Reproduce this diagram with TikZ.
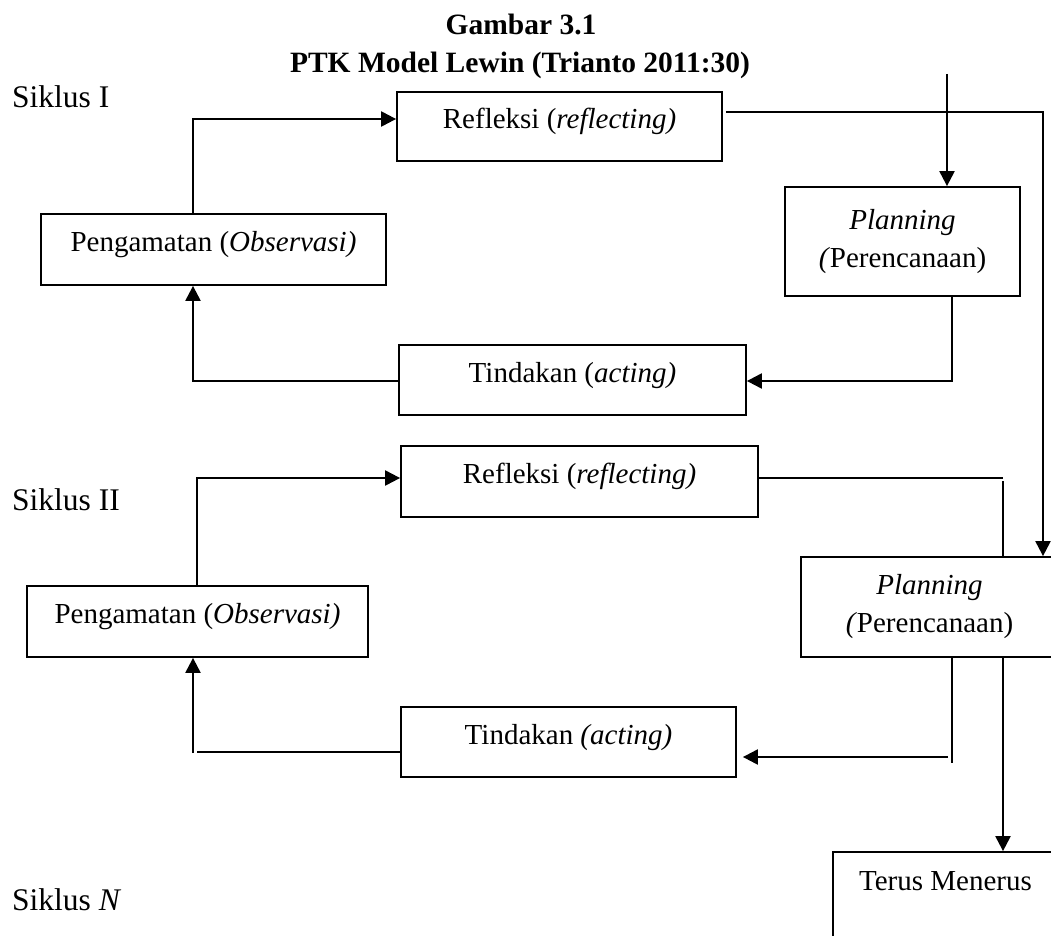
\documentclass[tikz,border=0pt]{standalone}
\usepackage{fontspec}
\setmainfont{Liberation Serif}
\usetikzlibrary{arrows.meta}
\begin{document}
\begin{tikzpicture}[x=1pt,y=-1pt,
  box/.style={draw, line width=1.8pt, inner sep=0pt, align=center, font=\fontsize{29}{38}\selectfont},
  one/.style={text height=20pt, text depth=16pt},
  conn/.style={line width=2.2pt},
  arr/.style={conn, -{Triangle[length=15pt,width=15pt]}},
  lbl/.style={font=\fontsize{31.5}{38}\selectfont, inner sep=0pt, anchor=base west},
  ttl/.style={font=\fontsize{29.5}{38}\selectfont\bfseries, inner sep=0pt, anchor=base}
]
\useasboundingbox (0,0) rectangle (1051,936);
\fill[white] (0,0) rectangle (1051,936);
\clip (0,0) rectangle (1051,936);
% title
\node[ttl] (t1) at (521,35) {Gambar 3.1};
\node[ttl] (t2) at (520,73) {PTK Model Lewin (Trianto 2011:30)};
% cycle labels
\node[lbl] (s1) at (12,108) {Siklus I};
\node[lbl] (s2) at (12,510) {Siklus II};
\node[lbl] (s3) at (12,910) {Siklus \textit{N}};
% cycle I
\node[box,one,minimum width=325pt,minimum height=69pt] (R1) at (559.5,126.5) {Refleksi (\textit{reflecting)}};
\node[box,one,minimum width=345pt,minimum height=71pt] (P1) at (213.5,249.5) {Pengamatan (\textit{Observasi)}};
\node[box,minimum width=235pt,minimum height=109pt] (PL1) at (902.5,241.5) {\textit{Planning}\\\textit{(}Perencanaan)};
\node[box,one,minimum width=347pt,minimum height=70pt] (T1) at (572.5,380) {Tindakan (\textit{acting)}};
% cycle II
\node[box,one,minimum width=357pt,minimum height=71pt] (R2) at (579.5,481.5) {Refleksi (\textit{reflecting)}};
\node[box,one,minimum width=341pt,minimum height=71pt] (P2) at (197.5,621.5) {Pengamatan (\textit{Observasi)}};
\node[box,minimum width=257pt,minimum height=100pt] (PL2) at (929.5,607) {\textit{Planning}\\\textit{(}Perencanaan)};
\node[box,one,minimum width=335pt,minimum height=70pt] (T2) at (568.5,742) {Tindakan \textit{(acting)}};
% cycle N
\node[box,text height=20pt,text depth=84pt,minimum width=225pt,minimum height=140pt] (TM) at (945.5,922) {Terus Menerus};
% connectors cycle I
\coordinate (a1) at (193,119);
\draw[arr] (a1 |- P1.north) -- (a1) -- (a1 -| R1.west);
\coordinate (a2) at (1043,112);
\draw[arr,shorten <=3pt] (a2 -| R1.east) -- (a2) -- (a2 |- PL2.north);
\coordinate (a3) at (947,74);
\draw[arr] (a3) -- (a3 |- PL1.north);
\coordinate (a4) at (952,381);
\draw[arr] (a4 |- PL1.south) -- (a4) -- (a4 -| T1.east);
\coordinate (a5) at (193,381);
\draw[arr] (a5 -| T1.west) -- (a5) -- (a5 |- P1.south);
% connectors cycle II
\coordinate (b1) at (197,478);
\draw[arr] (b1 |- P2.north) -- (b1) -- (b1 -| R2.west);
\coordinate (b2) at (1003,478);
\coordinate (b2v) at (1003,481);
\draw[conn] (b2 -| R2.east) -- (b2);
\draw[conn] (b2v) -- (b2v |- PL2.north);
\coordinate (b3) at (952,763);
\draw[conn] (b3 |- PL2.south) -- (b3);
\coordinate (b4) at (948,757);
\draw[arr,shorten >=6pt] (b4) -- (b4 -| T2.east);
\coordinate (b5) at (197,752);
\draw[conn] (b5 -| T2.west) -- (b5);
\coordinate (b6) at (193,753);
\draw[arr] (b6) -- (b6 |- P2.south);
\coordinate (b7) at (1003,657);
\draw[arr] (b7 |- PL2.south) -- (b7 |- TM.north);
\end{tikzpicture}
\end{document}
